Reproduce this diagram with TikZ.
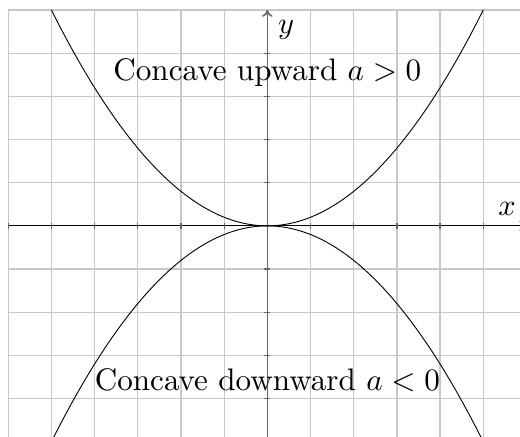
\documentclass[tikz,border=0pt]{standalone}
\usepackage{tikz}
\usetikzlibrary{arrows.meta}
\definecolor{Ink}{HTML}{000000}
\definecolor{GridGray}{HTML}{C8C8C8}
\definecolor{AxisGray}{HTML}{666666}
\tikzset{
  gridLine/.style={draw=GridGray,line width=.8pt},
  xAxis/.style={-{To[length=1.6mm,width=2.4mm]},draw=Ink,line width=.6pt},
  yAxis/.style={-{To[length=1.6mm,width=2.4mm]},draw=AxisGray,line width=1.1pt},
  tickMark/.style={draw=AxisGray,line width=.8pt},
  parabola/.style={draw=Ink,line width=.6pt,smooth,samples=121},
  caption/.style={font=\normalsize,scale=2.05,text=Ink},
  axisLabel/.style={font=\normalsize,scale=2,text=Ink}
}

\begin{document}
\begin{tikzpicture}[x=1cm,y=1cm]
  % Page frame
  \useasboundingbox (-6.19,-4.88) rectangle (5.85,5.23);
  \clip (-6.19,-4.88) rectangle (5.85,5.23);

  % Grid and axes
  \draw[gridLine] (-6,-5) grid (6,5);
  \coordinate (yStart) at (0,-5);
  \coordinate (yEnd) at (0,5);
  \coordinate (xStart) at (-6,0);
  \coordinate (xEnd) at (6,0);
  \draw[yAxis] (yStart) -- (yEnd);
  \draw[xAxis] (xStart) -- (xEnd);
  \foreach \k in {-6,...,5} \draw[tickMark] (\k,-.07) -- (\k,.07);
  \foreach \k in {-5,...,4} \draw[tickMark] (-.07,\k) -- (.07,\k);
  \node[axisLabel,below right] (yLabel) at (yEnd) {$y$};
  \node[axisLabel,above left] (xLabel) at (xEnd) {$x$};

  % Both parabolas
  \draw[parabola] plot[domain=-5:5] (\x,{0.2*\x*\x});
  \draw[parabola] plot[domain=-5.2:5.2] (\x,{-0.2*\x*\x});

  % Captions
  \node[caption] (upLabel) at (0,3.56) {Concave upward $a>0$};
  \node[caption] (downLabel) at (0,-3.57) {Concave downward $a<0$};
\end{tikzpicture}
\end{document}
